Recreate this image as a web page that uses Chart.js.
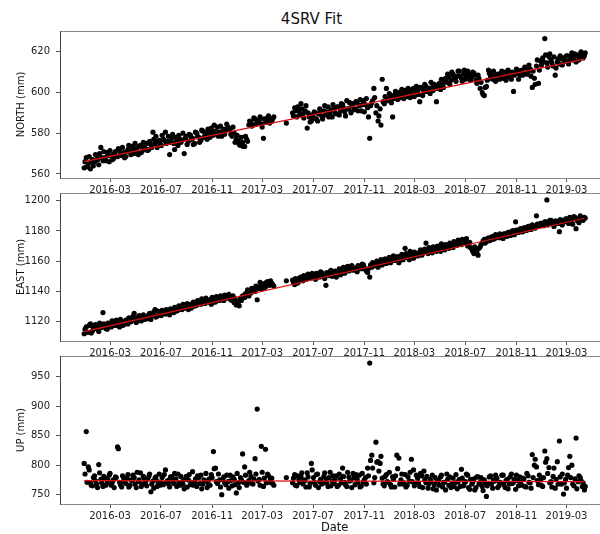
<!DOCTYPE html>
<html>
<head>
<meta charset="utf-8">
<title>4SRV Fit</title>
<script src="https://cdn.jsdelivr.net/npm/chart.js@4.4.1/dist/chart.umd.min.js"></script>
<style>
  html, body { margin: 0; padding: 0; background: #fff; overflow: hidden; }
  #fig { position: relative; width: 600px; height: 534px; overflow: hidden; }
  #fig canvas { position: absolute; left: 0; }
  #title {
    position: absolute; top: 12px; left: 0; width: 623px;
    text-align: center; font: 15px "DejaVu Sans", sans-serif; line-height: 15px; color: #111;
  }
</style>
</head>
<body>
<div id="fig">
  <div id="title">4SRV Fit</div>
  <canvas id="north" width="612" height="200" style="top:0"></canvas>
  <canvas id="east" width="612" height="182" style="top:180px"></canvas>
  <canvas id="up" width="612" height="191" style="top:343px"></canvas>
</div>
<script>
// station positions in mm; two interleaved samplings of the daily solutions,
// each one every 5 days (null = no solution)
const obsStartA = '2015-12-30';
const obsStartB = '2016-01-01';
const obsStepDays = 5;

const northA = [
  563, 568, 565, 562.5, 567, 566, 569, 564.5, 573, 566.5,
  568, 570.5, 566, 569, 567.5, 571, 568.5, 572, 569, 570.5,
  568.5, 572, 571, 573.5, 570, 572.5, 569.5, 574, 571.5, 573,
  575, 572, 574.5, 580.5, 575, 573, 576.5, 574, 577, 580.5,
  576, 569.5, 577.5, 575, 578, 574, 577, 576.5, 570, 578.5,
  576, 579, 577.5, 575, 580, 578, 576.5, 581, 579, 577,
  580, 582.5, 579, 581, 583, 580.5, 578.5, 582, 581.5, 583,
  582, 578.5, 580, 577, 576, 574, 575.5, 573.5, 577, 584,
  585.5, 584, 587, 585, 586.5, 584.5, 577.5, 586, 587.5, 585,
  586, 588, null, null, null, null, null, 585, null, null,
  590, 592.5, 588, 591, 594.5, 589.5, 591, 582.5, 588, 586,
  587.5, 590, 586, 592, 588.5, 591, 589, 593, 590, 588,
  592, 589.5, 593, 591, 594, 590.5, 596, 592, 590, 594.5,
  592, 595, 593.5, 591, 596, 594, 592.5, 577.5, 595, 602,
  590, 586, 592, 606.5, 594.5, 602, 597, 598.5, 588, 599,
  598, 600, 597.5, 599.5, 601, 598, 600.5, 599, 602, 600,
  601, 595.5, 602, 600.5, 603, 601, 599.5, 602.5, 604, 595.5,
  603, 601.5, 604, 606, 605, 607.5, 606, 609, 607, 608,
  610.5, 607, 609, 606.5, 610.5, 608, 607.5, 609.5, 606, 608.5,
  602, 600, 598.5, 603, 611, 608, 606.5, 609, 607.5, 608,
  609.5, 607, 610, 608, 609, 606.5, 600.5, 609.5, 611, 608.5,
  611, 609.5, 612, 610, 611.5, 602.5, 607, 613, 604.5, 615.5,
  617, 626.5, 614.5, 617.5, 616, 613, 608.5, 615, 614, 616.5,
  617, 615.5, 618, 616, 619.5, 617, 615, 618.5, 617.5, 619, 618
];
const northB = [
  566, 563.5, 568.5, 566, 564, 569.5, 567, 570, 568, 571,
  566.5, 569, 571.5, 567, 570, 568.5, 572.5, 570, 573, 568,
  571, 574, 569.5, 572.5, 575, 571, 573.5, 570.5, 575.5, 572.5,
  571.5, 576, 573, 577, 578.5, 576, 575, 579, 576.5, 575,
  578.5, 575.5, 579.5, 572, 576.5, 579, 575.5, 580, 577.5, 574.5,
  579.5, 577, 574.5, 580.5, 578.5, 575.5, 581.5, 578, 580, 582,
  578, 581, 584, 580, 578.5, 583.5, 581, 579.5, 584.5, 582,
  579.5, 583, 575.5, 579, 574.5, 578, 573.5, 578.5, 576, 586,
  583.5, 587.5, 584.5, 586, 588, 583, 587, 585.5, 588.5, 586.5,
  587, null, null, null, null, null, null, null, null, null,
  588.5, 591, 593, 589, 592, 587.5, 593.5, 590, 585.5, 589,
  590.5, 587, 589.5, 591, 587, 593.5, 590.5, 588, 591.5, 594,
  590, 593, 589, 594.5, 592.5, 588.5, 592, 595, 593.5, 591.5,
  595.5, 591, 596.5, 594, 590.5, 597, 588, 593.5, 596, 597.5,
  593.5, 588.5, 584, 595.5, 598, 596, 599.5, 595, 597, 600.5,
  596.5, 598.5, 601.5, 597, 600, 602, 597.5, 601.5, 598, 603,
  599, 602.5, 598.5, 604, 600.5, 602, 605, 601, 603.5, 602,
  604.5, 606.5, 602.5, 607, 609, 604, 610, 608, 605.5, 610.5,
  608, 605.5, 611, 607.5, 609, 606, 610, 608.5, 604.5, 607,
  605, 599, 602.5, 606, 609.5, 607, 610.5, 605.5, 609, 606.5,
  610.5, 608.5, 606, 611, 607.5, 610, 608.5, 611.5, 606.5, 610,
  608.5, 612.5, 609, 613.5, 608, 610.5, 604, 616, 611, 613.5,
  615, 618.5, 612.5, 619, 614.5, 617.5, 612, 616.5, 618, 613.5,
  615.5, 618, 614, 617.5, 616, 619, 618, 616, 620, 617, 619.5
];

const eastA = [
  1112, 1116.5, 1113, 1118.5, 1114, 1115.5, 1117, 1113.5, 1116, 1126,
  1117, 1115, 1118.5, 1116.5, 1119, 1117.5, 1120, 1116.5, 1119.5, 1118,
  1121, 1118.5, 1120.5, 1122, 1125.5, 1119.5, 1122.5, 1121, 1123.5, 1121.5,
  1123, 1124.5, 1121.5, 1125, 1128, 1123.5, 1125.5, 1124, 1126.5, 1125,
  1127, 1124.5, 1128, 1126, 1129, 1127.5, 1130, 1128, 1131, 1129.5,
  1128, 1131.5, 1130, 1132.5, 1131, 1133.5, 1131.5, 1134, 1132, 1134.5,
  1133, 1131.5, 1134.5, 1133, 1135.5, 1134, 1136.5, 1134, 1137, 1135.5,
  1136, 1134, 1132.5, 1131, 1133, 1135.5, 1137, 1136, 1138.5, 1137,
  1139, 1141.5, 1140, 1134.5, 1143, 1141.5, 1145, 1143, 1146.5, 1144,
  1145.5, 1143.5, null, null, null, null, null, 1147, null, null,
  1147.5, 1144.5, 1148, 1146.5, 1149.5, 1147, 1150, 1148.5, 1151, 1149,
  1150.5, 1148, 1151.5, 1149.5, 1152.5, 1150, 1144, 1151, 1153, 1150,
  1152, 1149.5, 1153.5, 1151, 1154.5, 1152, 1155, 1153.5, 1156, 1154,
  1155.5, 1153, 1156.5, 1155, 1157.5, 1154.5, 1152.5, 1149.5, 1156, 1158,
  1158.5, 1156, 1159.5, 1157.5, 1160, 1158.5, 1161, 1159, 1162, 1160.5,
  1161.5, 1159, 1163, 1161, 1168.5, 1162.5, 1161, 1164.5, 1162, 1165,
  1163.5, 1166, 1164, 1166.5, 1172, 1165, 1167.5, 1165.5, 1168, 1166.5,
  1168, 1166.5, 1169.5, 1167.5, 1170, 1168.5, 1171, 1169, 1172, 1170.5,
  1173, 1171, 1173.5, 1172, 1170, 1172.5, 1168, 1165, 1167, 1164,
  1169.5, 1172, 1174.5, 1173, 1175.5, 1174, 1176.5, 1175, 1177, 1175.5,
  1177, 1175, 1178, 1176.5, 1179, 1177.5, 1180, 1186, 1179, 1181,
  1179.5, 1182, 1180.5, 1183, 1181.5, 1184, 1182, 1190, 1183.5, 1185,
  1184, 1186, 1200.5, 1185.5, 1187, 1184.5, 1186.5, 1185, 1179.5, 1187,
  1186, 1188, 1186.5, 1189, 1187.5, 1189.5, 1181.5, 1188, 1190, 1187.5, 1189
];
const eastB = [
  1115, 1113, 1117.5, 1112.5, 1116, 1118, 1115, 1119, 1116.5, 1118.5,
  1115.5, 1119, 1117, 1120.5, 1118, 1121, 1118.5, 1121.5, 1117.5, 1120,
  1119, 1122.5, 1120, 1123.5, 1121, 1122.5, 1124, 1120.5, 1124.5, 1123,
  1122, 1125.5, 1124, 1126.5, 1123, 1127, 1124.5, 1127.5, 1125.5, 1128,
  1125.5, 1128.5, 1126.5, 1129.5, 1127, 1130.5, 1128.5, 1131.5, 1129, 1132,
  1130.5, 1129, 1133, 1130.5, 1134, 1132, 1135, 1132.5, 1135.5, 1133,
  1134.5, 1136, 1133, 1136.5, 1134.5, 1137, 1135, 1137.5, 1136, 1138,
  1134.5, 1137, 1135, 1133, 1130.5, 1134, 1136.5, 1138.5, 1141, 1139.5,
  1142, 1140, 1143.5, 1142, 1146, 1144, 1142.5, 1146, 1144.5, 1147,
  1144.5, null, null, null, null, null, null, null, null, null,
  1146, 1148.5, 1145.5, 1149, 1147.5, 1150.5, 1148, 1151.5, 1149.5, 1152,
  1149, 1152, 1150, 1153, 1151, 1148.5, 1152.5, 1150.5, 1154, 1152,
  1153.5, 1151.5, 1155, 1152.5, 1156, 1153.5, 1156.5, 1155, 1157, 1155.5,
  1154, 1157, 1155.5, 1158, 1156, 1153.5, 1155, 1157.5, 1159, 1157,
  1160, 1157.5, 1161, 1159, 1161.5, 1160, 1162.5, 1161, 1163.5, 1162,
  1163, 1160.5, 1164.5, 1162.5, 1165, 1163.5, 1166.5, 1163, 1166, 1164,
  1165.5, 1167.5, 1165, 1168, 1166, 1169, 1167, 1169.5, 1167.5, 1170,
  1169.5, 1171.5, 1168.5, 1171, 1169.5, 1172, 1170.5, 1173, 1171.5, 1174,
  1171.5, 1174.5, 1172.5, 1175, 1171, 1169, 1166.5, 1169.5, 1166, 1168.5,
  1171, 1173.5, 1172, 1175, 1173.5, 1176, 1174.5, 1177.5, 1176, 1178,
  1175.5, 1178, 1176.5, 1179, 1177, 1180, 1177.5, 1180.5, 1179, 1181.5,
  1179.5, 1182, 1180.5, 1183, 1181, 1183.5, 1182, 1184.5, 1183.5, 1185,
  1183.5, 1186, 1184, 1187, 1185, 1183, 1186.5, 1185, 1187.5, 1184,
  1186, 1188, 1185, 1188.5, 1184.5, 1189, 1187, 1185.5, 1189, 1187, 1188.5
];

const upA = [
  803, 857, 797, 770, 765, 782, 768, 801, 776, 764,
  778, 770, 783, 766, 775, 780, 831, 771, 763, 778,
  769, 784, 766, 774, 779, 762, 772, 787, 768, 776,
  765, 781, 755, 773, 778, 764, 785, 770, 767, 792,
  774, 763, 780, 769, 777, 785, 766, 772, 760, 781,
  775, 767, 789, 771, 764, 779, 783, 768, 774, 762,
  777, 784, 823, 795, 769, 775, 750, 780, 767, 772,
  783, 765, 776, 753, 770, 779, 819, 797, 766, 774,
  781, 768, 811, 895, 776, 832, 764, 827, 785, 771,
  778, 766, null, null, null, null, null, 779, null, null,
  770, 784, 765, 776, 781, 768, 774, 787, 763, 803,
  779, 766, 785, 772, 768, 781, 775, 764, 788, 773,
  769, 782, 766, 777, 795, 771, 764, 780, 774, 786,
  767, 776, 783, 765, 772, 779, 795, 973, 817, 770,
  839, 806, 803, 778, 765, 784, 771, 767, 780, 763,
  817, 812, 775, 768, 784, 766, 773, 810, 792, 769,
  778, 764, 782, 790, 770, 761, 776, 783, 767, 758,
  774, 780, 763, 771, 785, 766, 762, 778, 770, 760,
  776, 793, 765, 772, 783, 759, 768, 777, 762, 780,
  771, 764, 775, 747, 769, 782, 761, 773, 778, 765,
  770, 783, 762, 776, 768, 785, 771, 759, 774, 780,
  766, 777, 763, 782, 770, 818, 800, 797, 767, 775,
  764, 824, 811, 796, 772, 781, 761, 806, 841, 768,
  751, 776, 783, 815, 800, 765, 846, 772, 779, 764, 758
];
const upB = [
  785, 771, 792, 766, 779, 774, 762, 787, 770, 781,
  766, 775, 786, 770, 762, 779, 828, 767, 782, 772,
  778, 763, 775, 783, 768, 788, 775, 764, 781, 770,
  776, 785, 768, 761, 780, 772, 766, 779, 784, 771,
  768, 780, 773, 786, 764, 770, 781, 768, 776, 763,
  784, 771, 766, 777, 782, 769, 760, 775, 786, 770,
  766, 779, 794, 772, 785, 763, 776, 770, 783, 761,
  774, 780, 767, 786, 762, 775, 771, 783, 770, 788,
  769, 777, 785, 773, 766, 788, 778, 770, 782, 776,
  769, null, null, null, null, null, null, null, null, null,
  778, 766, 782, 771, 787, 775, 763, 780, 769, 792,
  771, 784, 762, 776, 769, 787, 770, 779, 765, 782,
  776, 764, 785, 770, 781, 767, 788, 773, 762, 779,
  784, 770, 763, 786, 775, 768, 782, 808, 795, 779,
  805, 790, 815, 768, 781, 772, 788, 763, 776, 782,
  794, 768, 785, 770, 763, 780, 788, 772, 765, 783,
  770, 786, 762, 775, 781, 768, 772, 760, 779, 773,
  766, 783, 771, 758, 776, 780, 768, 764, 784, 772,
  764, 778, 770, 785, 762, 776, 771, 758, 780, 768,
  779, 757, 770, 765, 780, 768, 775, 783, 762, 771,
  783, 767, 774, 760, 780, 769, 776, 783, 765, 771,
  778, 764, 786, 771, 761, 779, 810, 774, 783, 766,
  779, 805, 786, 770, 763, 795, 776, 768, 780, 785,
  770, 761, 796, 779, 768, 777, 760, 782, 774, 770, 764
];

// linear fit, evaluated at first and last epoch
const fitDates = ['2015-12-30', '2019-04-13'];
const northFit = [566.0, 616.4];
const eastFit = [1113.4, 1188.4];
const upFit = [773.7, 772.2];

const tickLabels = ['2016-03', '2016-07', '2016-11', '2017-03', '2017-07',
  '2017-11', '2018-03', '2018-07', '2018-11', '2019-03'];
const northTicks = [560, 580, 600, 620];
const eastTicks = [1120, 1140, 1160, 1180, 1200];
const upTicks = [750, 800, 850, 900, 950];
const xRange = ['2015-11-02', '2019-06-12'];

const FONT = '"DejaVu Sans", sans-serif';
const DAY = 86400000;
const EPOCH = Date.UTC(2016, 0, 1);

function dayNum(s) {
  const [y, m, d] = s.split('-').map(Number);
  return (Date.UTC(y, m - 1, d || 1) - EPOCH) / DAY;
}

const tickDays = tickLabels.map(dayNum);

function toPoints(values, start) {
  const d0 = dayNum(start);
  const pts = [];
  values.forEach((v, i) => {
    if (v !== null) pts.push({ x: d0 + i * obsStepDays, y: v });
  });
  return pts;
}

// matplotlib-like box around the plot area
const framePlugin = {
  id: 'frame',
  afterDraw(chart) {
    const { ctx, chartArea: a } = chart;
    ctx.save();
    ctx.lineWidth = 1;
    ctx.strokeStyle = '#8a8a8a';
    ctx.strokeRect(Math.round(a.left) + 0.5, Math.round(a.top) + 0.5,
      Math.round(a.right - a.left), Math.round(a.bottom - a.top));
    ctx.strokeStyle = '#444';
    ctx.beginPath();
    ctx.moveTo(Math.round(a.left) + 0.5, a.top);
    ctx.lineTo(Math.round(a.left) + 0.5, a.bottom + 1);
    ctx.stroke();
    ctx.restore();
  }
};

function makePanel(p) {
  const points = toPoints(p.a, obsStartA).concat(toPoints(p.b, obsStartB));
  const fitPts = fitDates.map((d, i) => ({ x: dayNum(d), y: p.fit[i] }));

  return new Chart(document.getElementById(p.id), {
    type: 'scatter',
    data: {
      datasets: [
        { type: 'line', data: fitPts, borderColor: '#e01010', borderWidth: 1.2,
          pointRadius: 0, order: 0 },
        { data: points, backgroundColor: '#000', borderWidth: 0,
          pointRadius: 2.6, pointHoverRadius: 2.6, order: 1 }
      ]
    },
    options: {
      responsive: false,
      animation: false,
      devicePixelRatio: 1,
      layout: { padding: { top: p.padTop, left: 0, right: 2, bottom: 0 } },
      plugins: { legend: { display: false }, tooltip: { enabled: false } },
      scales: {
        x: {
          type: 'linear',
          min: dayNum(xRange[0]),
          max: dayNum(xRange[1]),
          afterBuildTicks: s => { s.ticks = tickDays.map(v => ({ value: v })); },
          afterFit: s => { s.height = p.xHeight; },
          border: { display: false },
          grid: { drawOnChartArea: false, drawTicks: true, tickLength: 4, color: '#555' },
          ticks: {
            autoSkip: false, maxRotation: 0, minRotation: 0, padding: 2,
            color: '#222', font: { family: FONT, size: 10 },
            callback: (v, i) => tickLabels[i]
          },
          title: p.xTitle ? {
            display: true, text: p.xTitle, color: '#111',
            font: { family: FONT, size: 11.5, lineHeight: 1 },
            padding: { top: 0, bottom: 0 }
          } : { display: false }
        },
        y: {
          min: p.yMin,
          max: p.yMax,
          afterBuildTicks: s => { s.ticks = p.ticks.map(v => ({ value: v })); },
          afterFit: s => { s.width = 60; },
          border: { display: false },
          grid: { drawOnChartArea: false, drawTicks: true, tickLength: 4, color: '#555' },
          ticks: {
            padding: 6, color: '#222', font: { family: FONT, size: 10 },
            callback: v => String(v)
          },
          title: {
            display: true, text: p.yTitle, color: '#111',
            font: { family: FONT, size: 10 },
            padding: { top: 15, bottom: 0 }
          }
        }
      }
    },
    plugins: [framePlugin]
  });
}

makePanel({ id: 'north', a: northA, b: northB, fit: northFit, ticks: northTicks,
  yMin: 558, yMax: 630.2, yTitle: 'NORTH (mm)', padTop: 31, xHeight: 22 });
makePanel({ id: 'east', a: eastA, b: eastB, fit: eastFit, ticks: eastTicks,
  yMin: 1107.2, yMax: 1205.1, yTitle: 'EAST (mm)', padTop: 13, xHeight: 21 });
makePanel({ id: 'up', a: upA, b: upB, fit: upFit, ticks: upTicks,
  yMin: 734.2, yMax: 985, yTitle: 'UP (mm)', padTop: 13, xHeight: 30, xTitle: 'Date' });
</script>
</body>
</html>
